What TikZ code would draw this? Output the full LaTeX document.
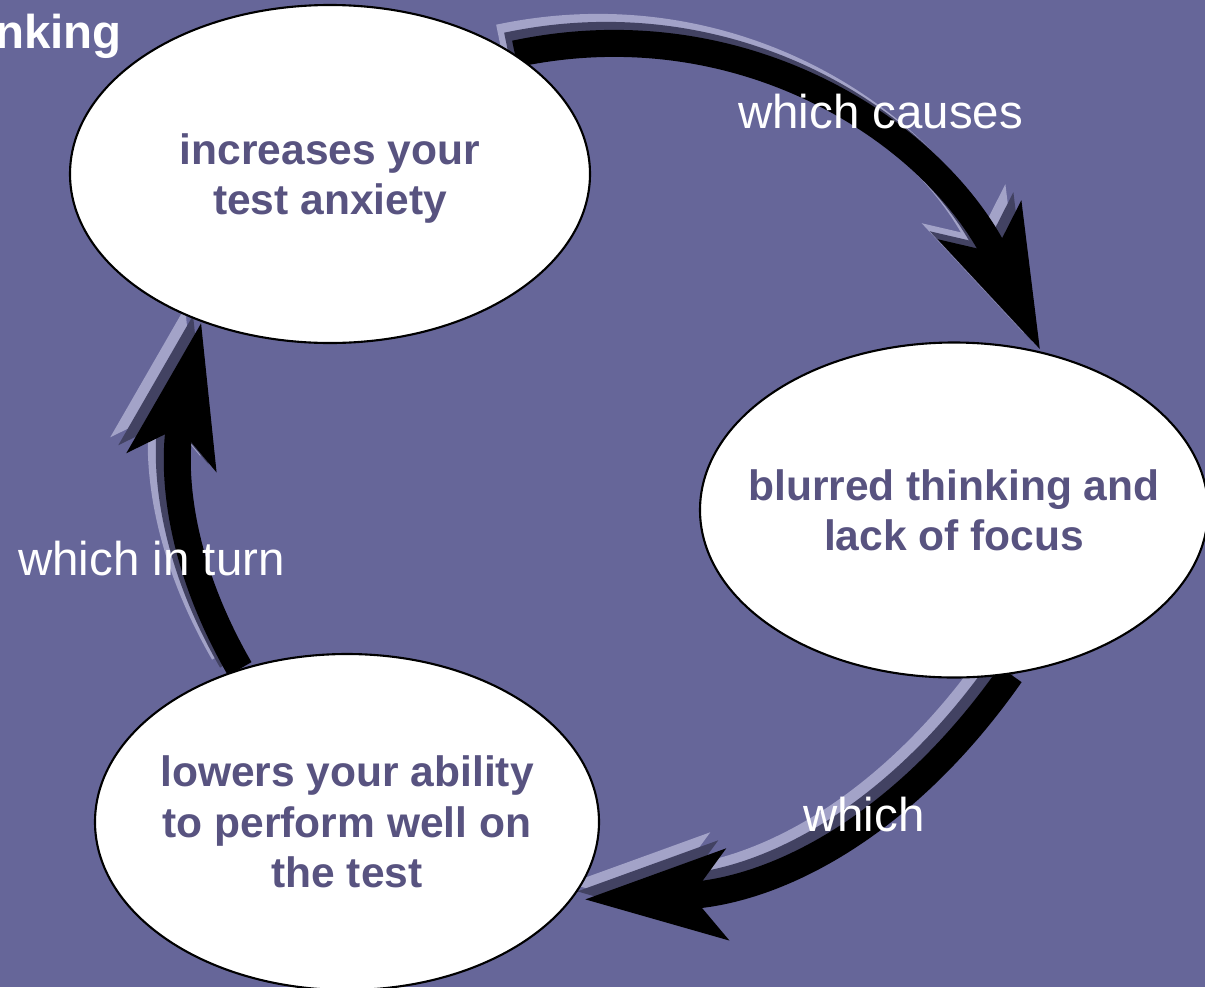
\documentclass[tikz,border=0pt]{standalone}
\usepackage{fontspec}
\setmainfont{Liberation Sans}
\usetikzlibrary{shapes.geometric,arrows.meta}
\definecolor{bgpurple}{RGB}{102,102,153}
\definecolor{txtpurple}{RGB}{88,83,128}
\definecolor{shadelight}{RGB}{163,163,200}
\definecolor{shadedark}{RGB}{66,66,98}
\pgfdeclarelayer{back}
\pgfdeclarelayer{arrowlayer}
\pgfsetlayers{back,arrowlayer,main}

\begin{document}
\begin{tikzpicture}[
  bubble/.style={ellipse, draw, line width=1.2pt, fill=white, inner xsep=-0.6cm, inner ysep=0pt,
    text depth=0pt, align=center, text=txtpurple, font=\fontsize{24.2}{28.7}\selectfont\bfseries},
  lbl/.style={text=white, inner sep=0pt, anchor=base west, font=\fontsize{27}{32}\selectfont},
  cyc/.style={line width=0.54cm, -{Stealth[length=2.8cm, width=1.75cm, inset=0.65cm]}}
]
  \begin{pgfonlayer}{back}
    \fill[bgpurple] (0,0) rectangle (24.1,-19.74);
  \end{pgfonlayer}
  \useasboundingbox (0,0) rectangle (24.1,-19.74);

  % the three stages
  \node[bubble, minimum width=10.4cm, minimum height=6.76cm] (anx) at (6.6,-3.48) {increases your\\ test anxiety};
  \node[bubble, minimum width=10.16cm, minimum height=6.7cm] (blur) at (19.08,-10.2) {blurred thinking and\\lack of focus};
  \node[bubble, minimum width=10.08cm, minimum height=6.72cm] (low) at (6.94,-16.44) {lowers your ability\\to perform well on\\the test};

  \node[text=white, inner sep=0pt, anchor=base east, font=\fontsize{27}{32}\selectfont\bfseries] (ttl) at (2.44,-0.96) {nking};
  \node[lbl] (l1) at (14.76,-2.56) {which causes};
  \node[lbl] (l2) at (0.36,-11.5) {which in turn};
  \node[lbl] (l3) at (16.06,-16.62) {which};

  % arrows with their shadows
  \begin{pgfonlayer}{arrowlayer}
    \foreach \d/\col in {0.32/shadelight, 0.16/shadedark, 0/black} {
      \begin{scope}[transform canvas={shift={(-\d,\d)}}, color=\col]
        \draw[cyc] (anx.33) to[out=12, in=115] ([xshift=0.1cm]blur.63);
        \draw[cyc] (blur.289) to[out=235, in=2] ([xshift=0.24cm]low.341);
        \draw[cyc] (low.125) to[out=120, in=258] (anx.229);
      \end{scope}
    }
  \end{pgfonlayer}
\end{tikzpicture}
\end{document}
